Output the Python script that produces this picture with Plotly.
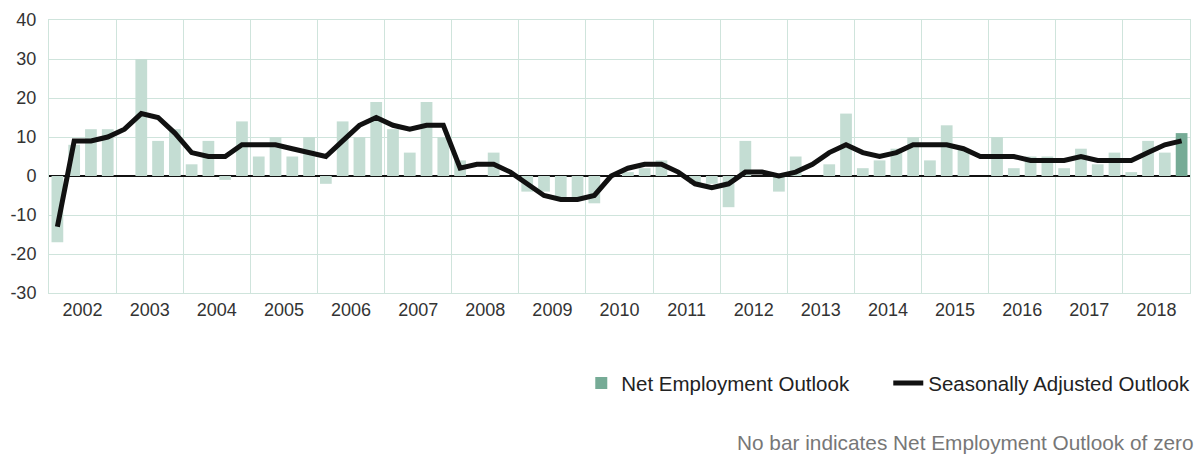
import plotly.graph_objects as go

years = [str(y) for y in range(2002, 2019)]
quarters = [f"{y} Q{q}" for y in years for q in range(1, 5)]

net_outlook = [
    -17, 8, 12, 12,
    0, 30, 9, 12,
    3, 9, -1, 14,
    5, 10, 5, 10,
    -2, 14, 10, 19,
    12, 6, 19, 10,
    4, 0, 6, 0,
    -4, -4, -6, -6,
    -7, 0, 1, 2,
    4, 0, -2, -2,
    -8, 9, 0, -4,
    5, 0, 3, 16,
    2, 4, 7, 10,
    4, 13, 7, 0,
    10, 2, 5, 5,
    2, 7, 3, 6,
    1, 9, 6, 11,
]

seasonally_adjusted = [
    -13, 9, 9, 10,
    12, 16, 15, 11,
    6, 5, 5, 8,
    8, 8, 7, 6,
    5, 9, 13, 15,
    13, 12, 13, 13,
    2, 3, 3, 1,
    -2, -5, -6, -6,
    -5, 0, 2, 3,
    3, 1, -2, -3,
    -2, 1, 1, 0,
    1, 3, 6, 8,
    6, 5, 6, 8,
    8, 8, 7, 5,
    5, 5, 4, 4,
    4, 5, 4, 4,
    4, 6, 8, 9,
]

y_ticks = [-30, -20, -10, 0, 10, 20, 30, 40]
y_tick_labels = ["-30", "-20", "-10", "0", "10", "20", "30", "40"]

LIGHT = "#c4ddd3"
DARK = "#76ab96"
GRID = "#cfe4dc"
FONT = "Liberation Sans, Arial, sans-serif"

idx = list(range(len(quarters)))
n = len(idx)

fig = go.Figure()
fig.add_trace(go.Bar(
    x=idx[:-1], y=net_outlook[:-1], marker=dict(color=LIGHT, line=dict(width=0)),
    width=0.7, showlegend=False, hovertext=quarters[:-1], name="Net Employment Outlook",
))
fig.add_trace(go.Bar(
    x=idx[-1:], y=net_outlook[-1:], marker=dict(color=DARK, line=dict(width=0)),
    width=0.7, name="Net Employment Outlook", hovertext=quarters[-1:],
))
fig.add_trace(go.Scatter(
    x=idx, y=seasonally_adjusted, mode="lines",
    line=dict(color="#111111", width=5), name="Seasonally Adjusted Outlook",
    hovertext=quarters,
))

year_centers = [i * 4 + 1.5 for i in range(len(years))]
year_bounds = [i * 4 - 0.5 for i in range(len(years) + 1)]

fig.update_layout(
    width=1197, height=457,
    margin=dict(l=49, r=7, t=20, b=164, autoexpand=False),
    paper_bgcolor="white", plot_bgcolor="white",
    barmode="overlay",
    font=dict(family=FONT, size=18, color="#333333"),
    showlegend=True,
    legend=dict(
        orientation="h", x=0.4665, xanchor="left", y=-0.33, yanchor="middle",
        font=dict(family=FONT, size=20.5, color="#222222"),
        traceorder="normal", itemclick=False,
        entrywidth=262, entrywidthmode="pixels",
    ),
    xaxis=dict(
        range=[-0.5, n - 0.5], automargin=False,
        tickvals=year_centers, ticktext=years,
        showgrid=False, ticks="", zeroline=False,
        showline=True, linecolor=GRID, linewidth=1, mirror=True,
        minor=dict(tickvals=year_bounds, showgrid=True, gridcolor=GRID, gridwidth=1, ticks=""),
        tickfont=dict(size=18, color="#333333"),
        ticklabelstandoff=0,
    ),
    yaxis=dict(
        range=[-30, 40], tickvals=y_ticks, ticktext=y_tick_labels, automargin=False,
        showgrid=True, gridcolor=GRID, gridwidth=1,
        zeroline=True, zerolinecolor="#111111", zerolinewidth=2,
        showline=True, linecolor=GRID, linewidth=1, mirror=True,
        ticks="", tickfont=dict(size=18, color="#333333"),
        ticklabelstandoff=8,
    ),
    annotations=[dict(
        text="No bar indicates Net Employment Outlook of zero",
        xref="paper", yref="paper", x=1.005, y=-0.549,
        xanchor="right", yanchor="middle", showarrow=False,
        font=dict(family=FONT, size=20.8, color="#777777"),
    )],
)

fig.write_html(
    "out.html",
    config={"displayModeBar": False},
    post_script="document.body.style.margin='0';document.body.style.overflow='hidden';",
)
